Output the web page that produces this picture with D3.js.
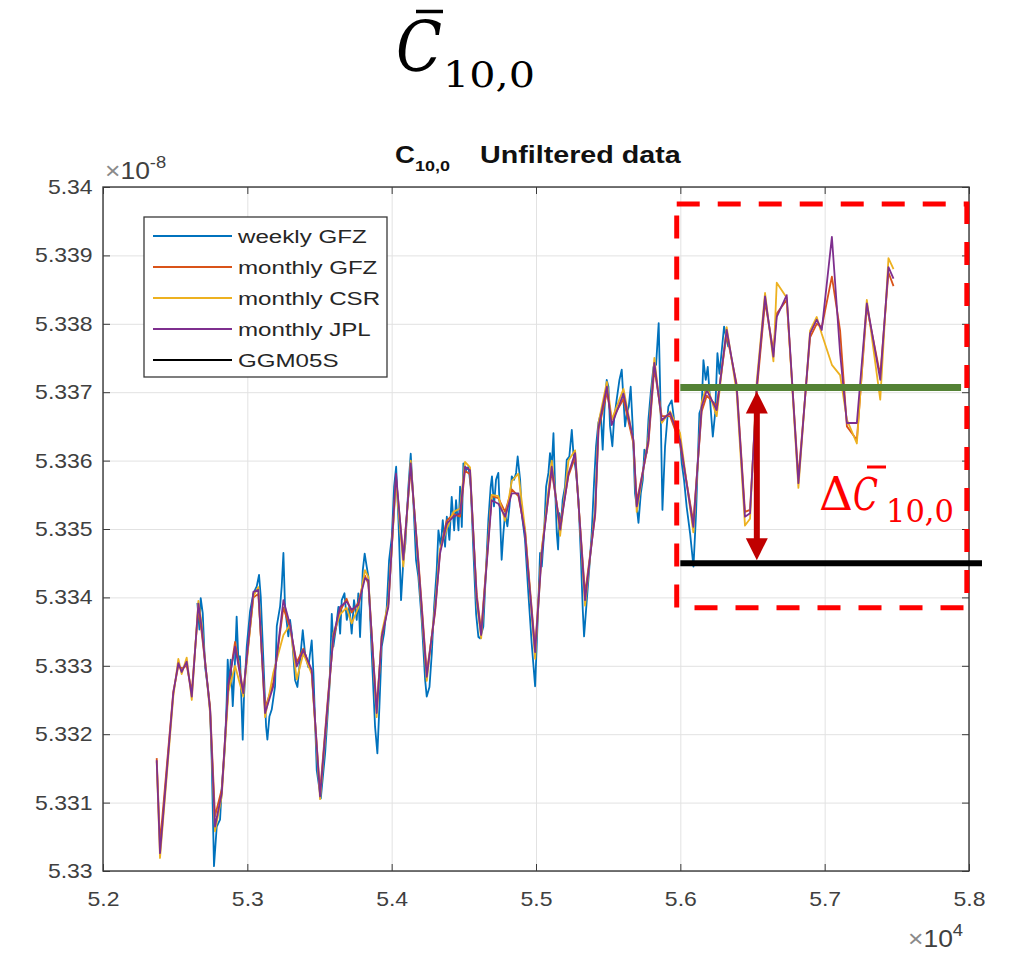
<!DOCTYPE html>
<html>
<head>
<meta charset="utf-8">
<script src="https://cdn.jsdelivr.net/npm/d3@7"></script>
<style>
  body { margin: 0; background: #fff; }
  svg { display: block; }
  .tick text { font-family: "Liberation Sans", Arial, Helvetica, sans-serif; fill: #404040; }
</style>
</head>
<body>
<script>
// ---- data (values in units of 1e-8) ----
var monthDates = [52372, 52395, 52487, 52522, 52545, 52580, 52615, 52661, 52683, 52742,
  52776, 52823, 52869, 52915, 52972, 53042, 53076, 53123, 53180, 53250,
  53296, 53342, 53388, 53446, 53504, 53561, 53596, 53642, 53688, 53723,
  53769, 53815, 53838, 53896, 53931, 53977, 54030, 54081, 54132, 54185,
  54243, 54301, 54335, 54381, 54428, 54474, 54508, 54543, 54589, 54620,
  54693, 54739, 54786, 54832, 54878, 54924, 54994, 55040, 55109, 55167,
  55225, 55271, 55340, 55410, 55433, 55491, 55525, 55606, 55675, 55698,
  55779, 55820, 55871, 55929, 55998, 56090, 56148, 56183, 56252, 56321,
  56390, 56448, 56483, 56529, 56587, 56645, 56668, 56737, 56818, 56899,
  56945, 56980, 57050, 57107, 57154, 57223, 57292, 57385, 57442, 57477];

var gfzMonthly = [5.33165, 5.33040, 5.33262, 5.33300, 5.33296, 5.33300, 5.33262, 5.33385, 5.33350, 5.33240,
  5.33080, 5.33120, 5.33270, 5.33335, 5.33262, 5.33400, 5.33405, 5.33238, 5.33275, 5.33385,
  5.33355, 5.33305, 5.33325, 5.33290, 5.33115, 5.33260, 5.33340, 5.33380, 5.33398, 5.33378,
  5.33392, 5.33432, 5.33420, 5.33238, 5.33340, 5.33390, 5.33575, 5.33460, 5.33590, 5.33455,
  5.33290, 5.33378, 5.33468, 5.33512, 5.33522, 5.33518, 5.33585, 5.33580, 5.33405, 5.33350,
  5.33548, 5.33545, 5.33525, 5.33558, 5.33548, 5.33498, 5.33325, 5.33470, 5.33585, 5.33505,
  5.33578, 5.33605, 5.33405, 5.33520, 5.33645, 5.33700, 5.33660, 5.33690, 5.33625, 5.33540,
  5.33625, 5.33735, 5.33665, 5.33665, 5.33625, 5.33510, 5.33672, 5.33695, 5.33680, 5.33785,
  5.33712, 5.33525, 5.33528, 5.33700, 5.33832, 5.33760, 5.33815, 5.33835, 5.33575, 5.33780,
  5.33800, 5.33795, 5.33869, 5.33790, 5.33650, 5.33630, 5.33825, 5.33725, 5.33875, 5.33855];

var csrMonthly = [5.33160, 5.33019, 5.33255, 5.33310, 5.33288, 5.33312, 5.33250, 5.33395, 5.33362, 5.33230,
  5.33058, 5.33110, 5.33262, 5.33300, 5.33255, 5.33402, 5.33415, 5.33225, 5.33290, 5.33345,
  5.33360, 5.33280, 5.33318, 5.33288, 5.33105, 5.33250, 5.33348, 5.33375, 5.33385, 5.33362,
  5.33385, 5.33440, 5.33430, 5.33225, 5.33348, 5.33392, 5.33570, 5.33445, 5.33600, 5.33445,
  5.33278, 5.33388, 5.33470, 5.33500, 5.33525, 5.33530, 5.33598, 5.33590, 5.33395, 5.33340,
  5.33550, 5.33548, 5.33512, 5.33570, 5.33581, 5.33500, 5.33310, 5.33470, 5.33600, 5.33490,
  5.33600, 5.33615, 5.33388, 5.33530, 5.33655, 5.33715, 5.33660, 5.33705, 5.33628, 5.33525,
  5.33635, 5.33750, 5.33655, 5.33672, 5.33640, 5.33495, 5.33685, 5.33710, 5.33665, 5.33795,
  5.33700, 5.33505, 5.33515, 5.33715, 5.33845, 5.33745, 5.33860, 5.33838, 5.33560, 5.33790,
  5.33810, 5.33785, 5.33740, 5.33725, 5.33660, 5.33625, 5.33835, 5.33689, 5.33896, 5.33880];

var jplMonthly = [5.33162, 5.33026, 5.33260, 5.33304, 5.33291, 5.33306, 5.33255, 5.33391, 5.33357, 5.33235,
  5.33065, 5.33114, 5.33274, 5.33328, 5.33260, 5.33408, 5.33411, 5.33231, 5.33270, 5.33396,
  5.33360, 5.33299, 5.33323, 5.33294, 5.33109, 5.33255, 5.33343, 5.33386, 5.33394, 5.33382,
  5.33389, 5.33428, 5.33425, 5.33231, 5.33343, 5.33386, 5.33581, 5.33455, 5.33596, 5.33450,
  5.33284, 5.33382, 5.33464, 5.33508, 5.33518, 5.33523, 5.33591, 5.33586, 5.33400, 5.33345,
  5.33542, 5.33537, 5.33518, 5.33552, 5.33552, 5.33493, 5.33320, 5.33464, 5.33591, 5.33499,
  5.33581, 5.33611, 5.33396, 5.33523, 5.33649, 5.33708, 5.33652, 5.33698, 5.33630, 5.33533,
  5.33630, 5.33743, 5.33659, 5.33670, 5.33630, 5.33503, 5.33679, 5.33703, 5.33674, 5.33791,
  5.33708, 5.33518, 5.33523, 5.33708, 5.33840, 5.33752, 5.33810, 5.33842, 5.33567, 5.33786,
  5.33806, 5.33791, 5.33927, 5.33757, 5.33655, 5.33655, 5.33830, 5.33718, 5.33883, 5.33866];

var weeklyDates = [52654, 52668, 52677, 52691, 52707, 52725, 52742, 52753, 52769, 52788,
  52811, 52822, 52845, 52857, 52864, 52875, 52885, 52899, 52915, 52926,
  52938, 52949, 52968, 52977, 52996, 53019, 53042, 53065, 53081, 53093,
  53111, 53130, 53139, 53153, 53169, 53192, 53204, 53227, 53238, 53250,
  53261, 53284, 53296, 53308, 53331, 53347, 53365, 53384, 53400, 53423,
  53446, 53458, 53481, 53509, 53539, 53569, 53585, 53596, 53615, 53631,
  53643, 53654, 53673, 53689, 53707, 53723, 53739, 53758, 53769, 53781,
  53800, 53813, 53827, 53839, 53862, 53885, 53901, 53915, 53931, 53947,
  53966, 53982, 54001, 54017, 54031, 54047, 54065, 54081, 54095, 54116,
  54132, 54151, 54169, 54185, 54208, 54232, 54243, 54262, 54278, 54294,
  54312, 54324, 54340, 54354, 54370, 54382, 54400, 54416, 54433, 54446,
  54463, 54474, 54486, 54497, 54516, 54532, 54548, 54567, 54585, 54601,
  54612, 54635, 54659, 54670, 54686, 54695, 54709, 54723, 54739, 54751,
  54762, 54774, 54786, 54802, 54816, 54832, 54848, 54862, 54873, 54890,
  54901, 54924, 54947, 54970, 54994, 55017, 55028, 55040, 55056, 55070,
  55086, 55097, 55109, 55121, 55132, 55144, 55153, 55162, 55171, 55185,
  55201, 55213, 55231, 55248, 55259, 55278, 55294, 55310, 55324, 55333,
  55352, 55370, 55386, 55402, 55416, 55432, 55449, 55462, 55474, 55490,
  55502, 55513, 55529, 55541, 55559, 55578, 55594, 55606, 55617, 55629,
  55643, 55656, 55670, 55686, 55698, 55710, 55726, 55740, 55751, 55767,
  55779, 55795, 55814, 55832, 55850, 55864, 55876, 55894, 55917, 55940,
  55957, 55980, 55994, 56010, 56026, 56044, 56068, 56091, 56109, 56132,
  56148, 56160, 56176, 56190, 56206, 56225, 56241, 56257, 56271, 56287,
  56303, 56317, 56333];

var gfzWeekly = [5.33392, 5.33353, 5.33399, 5.33377, 5.33299, 5.33270, 5.33236, 5.33163, 5.33007, 5.33065,
  5.33075, 5.33119, 5.33182, 5.33250, 5.33309, 5.33270, 5.33309, 5.33241, 5.33309, 5.33372,
  5.33309, 5.33314, 5.33192, 5.33255, 5.33328, 5.33380, 5.33406, 5.33416, 5.33433, 5.33401,
  5.33309, 5.33211, 5.33192, 5.33226, 5.33236, 5.33270, 5.33358, 5.33387, 5.33416, 5.33465,
  5.33387, 5.33343, 5.33367, 5.33347, 5.33279, 5.33269, 5.33308, 5.33352, 5.33318, 5.33298,
  5.33337, 5.33289, 5.33147, 5.33106, 5.33172, 5.33269, 5.33376, 5.33328, 5.33357, 5.33386,
  5.33347, 5.33396, 5.33406, 5.33367, 5.33386, 5.33347, 5.33396, 5.33367, 5.33406, 5.33342,
  5.33440, 5.33464, 5.33445, 5.33430, 5.33318, 5.33211, 5.33172, 5.33240, 5.33328, 5.33347,
  5.33386, 5.33454, 5.33488, 5.33562, 5.33591, 5.33513, 5.33396, 5.33454, 5.33479, 5.33562,
  5.33610, 5.33537, 5.33454, 5.33430, 5.33367, 5.33279, 5.33255, 5.33269, 5.33318, 5.33386,
  5.33440, 5.33498, 5.33474, 5.33513, 5.33474, 5.33518, 5.33484, 5.33547, 5.33498, 5.33542,
  5.33498, 5.33562, 5.33503, 5.33596, 5.33586, 5.33591, 5.33562, 5.33464, 5.33376, 5.33342,
  5.33340, 5.33357, 5.33465, 5.33513, 5.33562, 5.33577, 5.33533, 5.33572, 5.33582, 5.33518,
  5.33455, 5.33494, 5.33523, 5.33504, 5.33533, 5.33577, 5.33572, 5.33582, 5.33606, 5.33572,
  5.33523, 5.33484, 5.33406, 5.33333, 5.33270, 5.33396, 5.33465, 5.33445, 5.33494, 5.33562,
  5.33582, 5.33611, 5.33591, 5.33640, 5.33562, 5.33494, 5.33470, 5.33523, 5.33499, 5.33543,
  5.33562, 5.33601, 5.33606, 5.33645, 5.33611, 5.33582, 5.33543, 5.33465, 5.33382, 5.33343,
  5.33396, 5.33445, 5.33494, 5.33567, 5.33621, 5.33655, 5.33669, 5.33616, 5.33674, 5.33718,
  5.33708, 5.33650, 5.33621, 5.33660, 5.33689, 5.33718, 5.33733, 5.33689, 5.33650, 5.33669,
  5.33679, 5.33708, 5.33650, 5.33552, 5.33533, 5.33509, 5.33552, 5.33572, 5.33616, 5.33611,
  5.33660, 5.33699, 5.33737, 5.33740, 5.33801, 5.33669, 5.33528, 5.33620, 5.33679, 5.33688,
  5.33659, 5.33649, 5.33640, 5.33596, 5.33571, 5.33532, 5.33493, 5.33445, 5.33523, 5.33669,
  5.33679, 5.33747, 5.33718, 5.33737, 5.33688, 5.33635, 5.33669, 5.33757, 5.33727, 5.33761,
  5.33796, 5.33781, 5.33766];

var ggm05s = 5.33450;      // static model level (black bar)
var recentMean = 5.33707;  // level of the recent solutions (green bar)

var xTicks = [52000, 53000, 54000, 55000, 56000, 57000, 58000];
var yTicks = [5.33, 5.331, 5.332, 5.333, 5.334, 5.335, 5.336, 5.337, 5.338, 5.339, 5.34];
var seriesNames = ["weekly GFZ", "monthly GFZ", "monthly CSR", "monthly JPL", "GGM05S"];
var seriesColors = ["#0072BD", "#D95319", "#EDB120", "#7E2F8E", "#000000"];

// ---- layout ----
var W = 1010, H = 953;
var margin = {left: 103, right: 41, top: 187, bottom: 82};
var width = W - margin.left - margin.right,
    height = H - margin.top - margin.bottom;
var sans = '"Liberation Sans", Arial, Helvetica, sans-serif';
var serif = '"DejaVu Serif", "Liberation Serif", serif';

var svg = d3.select("body").append("svg")
    .attr("width", W).attr("height", H)
    .style("background", "#fff");

var x = d3.scaleLinear().domain([52000, 58000]).range([0, width]);
var y = d3.scaleLinear().domain([5.33, 5.34]).range([height, 0]);

// stretched text, the figure was pasted a bit wider than tall
function stext(parent, tx, ty, sx) {
  return parent.append("text").attr("transform", "translate(" + tx + "," + ty + ") scale(" + sx + ",1)");
}

// ---- big slide title ----
var titleG = svg.append("g");
titleG.append("text").attr("x", 396).attr("y", 71)
  .style("font-family", serif).style("font-style", "italic").style("font-size", "70px")
  .attr("textLength", 46).attr("lengthAdjust", "spacingAndGlyphs")
  .text("C");
titleG.append("line").attr("x1", 416).attr("x2", 443).attr("y1", 11.5).attr("y2", 11.5)
  .attr("stroke", "#000").attr("stroke-width", 3.5);
titleG.append("text").attr("x", 443).attr("y", 87)
  .style("font-family", serif).style("font-size", "36px")
  .attr("textLength", 92).attr("lengthAdjust", "spacingAndGlyphs")
  .text("10,0");

var g = svg.append("g").attr("transform", "translate(" + margin.left + "," + margin.top + ")");

// ---- grid ----
var gridCol = "#e2e2e2";
g.append("g").attr("transform", "translate(0," + height + ")")
  .call(d3.axisBottom(x).tickValues(xTicks).tickSize(-height).tickFormat(""))
  .call(function (s) { s.select(".domain").remove(); s.selectAll("line").attr("stroke", gridCol); });
g.append("g")
  .call(d3.axisLeft(y).tickValues(yTicks).tickSize(-width).tickFormat(""))
  .call(function (s) { s.select(".domain").remove(); s.selectAll("line").attr("stroke", gridCol); });

// ---- data lines ----
svg.append("defs").append("clipPath").attr("id", "plotclip")
  .append("rect").attr("width", width).attr("height", height);
var plot = g.append("g").attr("clip-path", "url(#plotclip)");

function drawSeries(dates, vals, color) {
  var pts = dates.map(function (d, i) { return [d, vals[i]]; });
  plot.append("path").datum(pts)
    .attr("fill", "none").attr("stroke", color).attr("stroke-width", 1.8)
    .attr("stroke-linejoin", "round")
    .attr("d", d3.line().x(function (p) { return x(p[0]); }).y(function (p) { return y(p[1]); }));
}
drawSeries(weeklyDates, gfzWeekly, seriesColors[0]);
drawSeries(monthDates, gfzMonthly, seriesColors[1]);
drawSeries(monthDates, csrMonthly, seriesColors[2]);
drawSeries(monthDates, jplMonthly, seriesColors[3]);

// ---- axes (matlab style: ticks inside, full box) ----
var axCol = "#3a3a3a";
var axes = g.append("g").style("color", axCol);
var xa = axes.append("g").attr("transform", "translate(0," + height + ")")
  .call(d3.axisBottom(x).tickValues(xTicks).tickSizeInner(-7).tickSizeOuter(0).tickPadding(21)
    .tickFormat(function (d) { return (d / 1e4).toFixed(1); }));
var ya = axes.append("g")
  .call(d3.axisLeft(y).tickValues(yTicks).tickSizeInner(-7).tickSizeOuter(0).tickPadding(9)
    .tickFormat(function (d) { return String(+d.toFixed(3)); }));
axes.append("g").call(d3.axisTop(x).tickValues(xTicks).tickSizeInner(-7).tickSizeOuter(0).tickFormat(""));
axes.append("g").attr("transform", "translate(" + width + ",0)")
  .call(d3.axisRight(y).tickValues(yTicks).tickSizeInner(-7).tickSizeOuter(0).tickFormat(""));
axes.selectAll(".domain").remove();
xa.selectAll(".tick text").style("font-size", "20px").attr("transform", "scale(1.15,1)");
ya.selectAll(".tick text").style("font-size", "20px").attr("transform", "scale(1.15,1)");
axes.append("rect").attr("width", width).attr("height", height)
  .attr("fill", "none").attr("stroke", axCol).attr("stroke-width", 1.4);

// exponents
var e1 = stext(svg, 105, 179, 1.15).style("font-family", sans).style("fill", "#404040").style("font-size", "23px");
e1.append("tspan").style("fill", "#8a8a8a").text("\u00d7");
e1.append("tspan").text("10");
e1.append("tspan").attr("dy", -11).style("font-size", "16px").text("-8");
var e2 = stext(svg, 908, 947, 1.15).style("font-family", sans).style("fill", "#404040").style("font-size", "23px");
e2.append("tspan").style("fill", "#8a8a8a").text("\u00d7");
e2.append("tspan").text("10");
e2.append("tspan").attr("dy", -11).style("font-size", "16px").text("4");

// subplot title
var t1 = stext(svg, 395, 163, 1.2).style("font-family", sans).style("font-weight", "bold")
  .style("font-size", "23px").style("fill", "#111");
t1.append("tspan").text("C");
t1.append("tspan").attr("dy", 8).style("font-size", "15px").text("10,0");
stext(svg, 480, 163, 1.22).style("font-family", sans).style("font-weight", "bold")
  .style("font-size", "23.5px").style("fill", "#111").text("Unfiltered data");

// ---- legend ----
var leg = svg.append("g").attr("transform", "translate(144,217)");
leg.append("rect").attr("width", 243).attr("height", 160)
  .attr("fill", "#fff").attr("stroke", axCol).attr("stroke-width", 1.3);
seriesNames.forEach(function (name, i) {
  var yy = 19 + i * 31;
  leg.append("line").attr("x1", 9).attr("x2", 88).attr("y1", yy).attr("y2", yy)
    .attr("stroke", seriesColors[i]).attr("stroke-width", 1.8);
  stext(leg, 94, yy + 7, 1.27).style("font-family", sans).style("font-size", "19px")
    .style("fill", "#262626").text(name);
});

// ---- slide annotations ----
var ann = g.append("g");
ann.append("rect")
  .attr("x", x(55975)).attr("y", y(5.33975))
  .attr("width", x(57985) - x(55975)).attr("height", y(5.33385) - y(5.33975))
  .attr("fill", "none").attr("stroke", "#ff0000").attr("stroke-width", 5)
  .attr("stroke-dasharray", "23 18");
ann.append("line").attr("x1", x(56000)).attr("x2", x(57945))
  .attr("y1", y(recentMean)).attr("y2", y(recentMean))
  .attr("stroke", "#548235").attr("stroke-width", 7);
ann.append("line").attr("x1", x(56000)).attr("x2", x(58090))
  .attr("y1", y(ggm05s)).attr("y2", y(ggm05s))
  .attr("stroke", "#000").attr("stroke-width", 6);
var ax = x(56530), ya0 = y(recentMean) + 4, yb0 = y(ggm05s) - 3;
ann.append("line").attr("x1", ax).attr("x2", ax).attr("y1", ya0 + 18).attr("y2", yb0 - 18)
  .attr("stroke", "#c00000").attr("stroke-width", 6);
ann.append("path").attr("fill", "#c00000")
  .attr("d", "M" + ax + "," + ya0 + "L" + (ax - 11) + "," + (ya0 + 22) + "L" + (ax + 11) + "," + (ya0 + 22) + "Z");
ann.append("path").attr("fill", "#c00000")
  .attr("d", "M" + ax + "," + yb0 + "L" + (ax - 11) + "," + (yb0 - 22) + "L" + (ax + 11) + "," + (yb0 - 22) + "Z");

var red = "#ff0000";
svg.append("text").attr("x", 819).attr("y", 510)
  .style("font-family", serif).style("font-size", "46px").style("fill", red)
  .attr("textLength", 34).attr("lengthAdjust", "spacingAndGlyphs").text("\u0394");
svg.append("text").attr("x", 853).attr("y", 510)
  .style("font-family", serif).style("font-style", "italic").style("font-size", "44px").style("fill", red)
  .attr("textLength", 25).attr("lengthAdjust", "spacingAndGlyphs").text("C");
svg.append("line").attr("x1", 867).attr("x2", 886).attr("y1", 467).attr("y2", 467)
  .attr("stroke", red).attr("stroke-width", 3);
svg.append("text").attr("x", 886).attr("y", 522)
  .style("font-family", serif).style("font-size", "32px").style("fill", red)
  .attr("textLength", 68).attr("lengthAdjust", "spacingAndGlyphs").text("10,0");
</script>
</body>
</html>
